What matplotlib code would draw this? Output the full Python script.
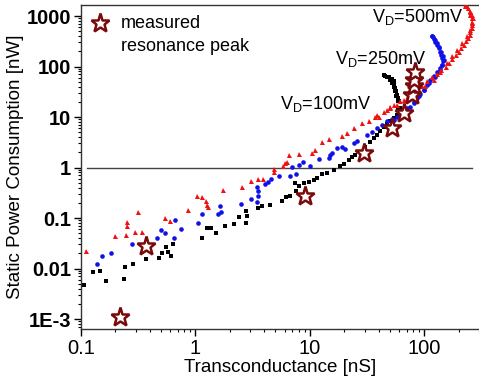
import matplotlib
matplotlib.use("Agg")
import matplotlib.pyplot as plt
from matplotlib.ticker import FixedLocator, FixedFormatter, LogLocator, NullFormatter

plt.rcParams['font.family'] = ['Liberation Sans', 'DejaVu Sans']
plt.rcParams['mathtext.fontset'] = 'custom'
plt.rcParams['mathtext.rm'] = 'Liberation Sans'

# ---- data ----
black_x = [0.1055, 0.127, 0.146, 0.164, 0.236, 0.244, 0.285, 0.373, 0.481, 0.511, 0.55, 0.577, 0.608, 0.638,
           1.136, 1.256, 1.362, 1.517, 1.794, 2.18, 2.38, 2.77, 2.81, 2.77, 3.49, 3.85, 4.44, 5.69, 6.21, 6.73,
           7.34, 7.55, 7.96, 8.81, 9.73, 10.8, 11.5, 12.7, 14.1, 16.1, 18.4, 19.7, 21.8, 23.3, 24.9, 27.5, 30.5,
           33.7, 36.0, 38.5, 41.2, 44.1, 47.1, 50.4, 53.9, 57.7, 58.9, 58.5, 56.9, 55.7, 53.9, 52.1, 49.7, 47.1, 44.1,
           45.6, 48.7, 52.1, 53.9, 54.7, 55.7, 56.9, 57.7, 58.5, 59.7, 60.8, 59.7, 57.7]
black_y = [0.00475, 0.00834, 0.00885, 0.00553, 0.00615, 0.0106, 0.0124, 0.0153, 0.016, 0.0201, 0.0264, 0.0217,
           0.0173, 0.0303, 0.0393, 0.063, 0.063, 0.0516, 0.07, 0.0766, 0.104, 0.137, 0.110, 0.079, 0.161, 0.169,
           0.185, 0.222, 0.255, 0.267, 0.49, 0.35, 0.434, 0.49, 0.528, 0.57, 0.615, 0.75, 0.796, 0.9, 1.05, 1.16,
           1.42, 1.60, 1.78, 2.07, 2.6, 3.27, 3.81, 4.43, 5.4, 6.48, 7.32, 8.15, 9.48, 11.0, 15.0, 20.3, 25.5,
           32.0, 39.0, 46.8, 54.5, 61.5, 67.3,
           65.3, 61.5, 56.1, 50.5, 43.4, 37.2, 32.0, 27.5, 23.6, 20.3, 15.0, 12.8, 11.0]

blue_x = [0.138, 0.153, 0.182, 0.281, 0.462, 0.501, 0.547, 0.646, 0.668, 0.745, 1.062, 1.136, 1.568, 1.666,
          1.644, 2.51, 3.07, 3.44, 3.51, 3.49, 3.44, 4.07, 4.29, 4.56, 5.36, 6.64, 6.96, 7.55, 8.07, 8.69, 10.07,
          11.9, 14.6, 15.1, 15.6, 17.2, 19.1, 20.4, 24.1, 25.8, 31.5, 34.9, 38.5, 42.6, 47.1, 52.1, 57.7, 63.8,
          70.5, 80.7, 89.2, 98.7, 109, 125, 136, 143, 148, 146, 140, 133, 129, 125, 119, 117,
          117, 121, 125, 129, 133, 138, 140, 143, 146, 143, 138, 129, 121, 113, 105, 98.7, 92.3, 86.3, 80.7,
          75.5, 70.5, 65.9, 59.7, 53.9]
blue_y = [0.0124, 0.0173, 0.0207, 0.0308, 0.0399, 0.0583, 0.0516, 0.0399, 0.0906, 0.0601, 0.079, 0.121, 0.119,
          0.132, 0.169, 0.188, 0.236, 0.212, 0.267, 0.335, 0.408, 0.475, 0.528, 0.587, 0.664, 0.664, 1.015, 0.738,
          1.10, 1.31, 1.08, 1.46, 1.53, 1.78, 1.98, 2.41, 2.53, 2.31, 3.03, 3.42, 4.43, 5.16, 6.01, 7.0, 8.15,
          9.06, 10.2, 11.9, 15.0, 18.8, 25.5, 34.5, 46.8, 63.4, 85.9, 108, 136, 158, 198, 249, 290, 337, 381, 405,
          393, 348, 299, 269, 231, 198, 170, 146, 126, 108, 92.7, 79.6, 65.3, 54.5, 43.4, 34.5, 28.3, 23.6, 19.4,
          16.1, 13.4, 11.6, 9.93, 8.53]

red_x = [0.1113, 0.198, 0.249, 0.252, 0.254, 0.299, 0.315, 0.344, 0.547, 0.597, 0.857, 1.04, 1.151, 1.231,
         1.256, 1.274, 1.757, 2.54, 3.05, 3.49, 3.93, 4.81, 4.81, 5.81, 6.08, 6.29, 6.51, 8.07, 10.4, 11.1, 12.7,
         14.6, 19.1, 21.1, 24.1, 28.5, 32.6, 37.3, 39.9, 47.1, 50.4, 53.9, 61.7, 70.5, 86.3, 102, 121, 138, 158,
         175, 193, 213, 236, 252, 261, 267, 261, 249, 236,
         228, 241, 249, 252, 258, 261, 261, 258, 252, 248, 241, 231, 221, 209, 200, 187, 175, 163, 153, 140,
         129, 117, 105, 95.4, 86.3, 75.5, 65.9, 57.7, 50.4, 44.1, 38.5]
red_y = [0.0224, 0.0437, 0.0457, 0.0827, 0.07, 0.054, 0.130, 0.054, 0.101, 0.0879, 0.141, 0.279, 0.255, 0.222,
         0.182, 0.164, 0.361, 0.408, 0.545, 0.597, 0.587, 0.833, 0.927, 1.08, 1.22, 1.31, 1.78, 1.86, 1.92, 2.24,
         3.27, 3.64, 4.24, 4.93, 6.01, 7.55, 8.15, 9.93, 10.2, 13.9, 16.1, 17.4, 20.3, 23.6, 32.0, 41.4, 54.5,
         79.6, 116, 158, 214, 290, 393, 532, 721, 906, 1055, 1285, 1543,
         1589, 1429, 1228, 1055, 906, 778, 668, 574, 493, 424, 364, 313, 269, 231, 198, 170, 140, 116, 100, 83.4,
         71.6, 60.6, 50.5, 41.4, 34.5, 27.5, 21.9, 17.4, 15.0, 12.8, 11.0]

star_x = [0.219, 0.373, 9.1, 29.5, 52.1, 65.9, 78, 80.7, 80.7, 83.4]
star_y = [0.00112, 0.0281, 0.275, 1.92, 6.01, 11.9, 27.5, 40.2, 54.5, 79.6]

ref_level = 1.0
ref_x = [0.113, 262]

y_ticks = [1e-3, 1e-2, 1e-1, 1, 10, 100, 1000]
y_labels = ['1E-3', '0.01', '0.1', '1', '10', '100', '1000']
x_ticks = [0.1, 1, 10, 100]
x_labels = ['0.1', '1', '10', '100']

star_color = '#7a0a0a'

fig = plt.figure(figsize=(4.79, 3.81), dpi=100)
ax = fig.add_axes([81/479, 1-329/381, 1-81/479, 324/381])

ax.plot(ref_x, [ref_level, ref_level], color='#444444', lw=1.0, zorder=1)
ax.plot(black_x, black_y, 's', color='black', ms=2.4, mew=0, zorder=3)
ax.plot(blue_x, blue_y, 'o', color='#1010e8', ms=3.3, mew=0, zorder=3)
ax.plot(red_x, red_y, '^', color='#f01010', ms=3.6, mew=0, zorder=3)
ax.plot(star_x, star_y, '*', ms=14, mfc='white', mec=star_color, mew=1.8, zorder=5, linestyle='none')

ax.set_xscale('log')
ax.set_yscale('log')
ax.set_xlim(0.1, 300)
ax.set_ylim(6.34e-4, 1652)

ax.yaxis.set_major_locator(FixedLocator(y_ticks))
ax.yaxis.set_major_formatter(FixedFormatter(y_labels))
ax.yaxis.set_minor_locator(LogLocator(base=10, subs=range(2, 10), numticks=20))
ax.yaxis.set_minor_formatter(NullFormatter())
ax.xaxis.set_major_locator(FixedLocator(x_ticks))
ax.xaxis.set_major_formatter(FixedFormatter(x_labels))
ax.xaxis.set_minor_locator(LogLocator(base=10, subs=range(2, 10), numticks=20))
ax.xaxis.set_minor_formatter(NullFormatter())

ax.tick_params(which='major', direction='out', length=5, width=1, labelsize=14.5, pad=2)
ax.tick_params(which='minor', direction='out', length=2.5, width=0.8)
for lab in ax.get_yticklabels():
    lab.set_fontweight('bold')

ax.spines['right'].set_visible(False)
for s in ['left', 'bottom', 'top']:
    ax.spines[s].set_linewidth(1.0)
    ax.spines[s].set_color('#333333')

ax.set_xlabel('Transconductance [nS]', fontsize=13.5, labelpad=1)
ax.set_ylabel('Static Power Consumption [nW]', fontsize=13.5, labelpad=2)

# annotations
ax.text(35.1, 963, r'V$_\mathregular{D}$=500mV', fontsize=13, ha='left', va='center')
ax.text(16.7, 142, r'V$_\mathregular{D}$=250mV', fontsize=13, ha='left', va='center')
ax.text(5.5, 18.2, r'V$_\mathregular{D}$=100mV', fontsize=13, ha='left', va='center')

# legend
ax.plot([0.048], [0.944], '*', ms=14, mfc='white', mec=star_color, mew=1.8, transform=ax.transAxes, clip_on=False)
ax.text(0.1005, 0.944, 'measured', fontsize=13, ha='left', va='center', transform=ax.transAxes)
ax.text(0.1005, 0.873, 'resonance peak', fontsize=13, ha='left', va='center', transform=ax.transAxes)

fig.savefig('out.png', dpi=100)
